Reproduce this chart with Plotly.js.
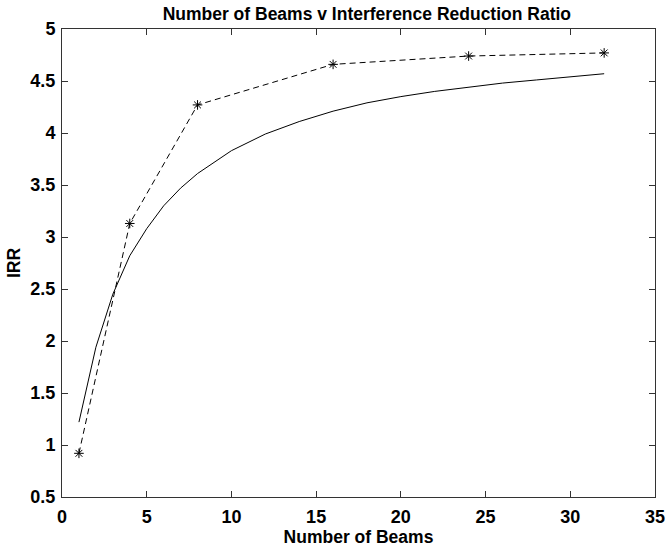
<!DOCTYPE html>
<html>
<head>
<meta charset="utf-8">
<script src="https://cdn.plot.ly/plotly-3.0.1.min.js"></script>
<style>html,body{margin:0;padding:0;background:#fff;}#chart{width:667px;height:549px;}</style>
</head>
<body>
<div id="chart"></div>
<script>
// Measured (dashed, asterisk markers)
const beamsMeasured = [1, 4, 8, 16, 24, 32];
const irrMeasured = [0.92, 3.13, 4.27, 4.66, 4.74, 4.77];

// Theoretical curve (solid)
const beamsCurve = [1, 2, 3, 4, 5, 6, 7, 8, 10, 12, 14, 16, 18, 20, 22, 24, 26, 28, 30, 32];
const irrCurve = [1.22, 1.94, 2.45, 2.82, 3.08, 3.30, 3.47, 3.61, 3.83, 3.99, 4.11, 4.21, 4.29, 4.35, 4.40, 4.44, 4.48, 4.51, 4.54, 4.57];

const xTicks = [0, 5, 10, 15, 20, 25, 30, 35];
const yTicks = [0.5, 1, 1.5, 2, 2.5, 3, 3.5, 4, 4.5, 5];

const FONT = 'Liberation Sans, Arial, Helvetica, sans-serif';

const traces = [
  {
    x: beamsCurve, y: irrCurve, type: 'scatter', mode: 'lines',
    line: {color: '#000', width: 1}, hoverinfo: 'skip', showlegend: false
  },
  {
    x: beamsMeasured, y: irrMeasured, type: 'scatter', mode: 'lines+markers',
    line: {color: '#000', width: 1, dash: '6px,4px'},
    marker: {symbol: 'asterisk-open', size: 8, color: '#000', line: {color: '#000', width: 1}},
    hoverinfo: 'skip', showlegend: false
  }
];

const axisCommon = {
  showgrid: false, zeroline: false, showline: true, linecolor: '#333', linewidth: 1,
  mirror: 'ticks', ticks: 'inside', ticklen: 6, tickwidth: 1, tickcolor: '#333',
  tickfont: {family: FONT, size: 18, color: '#000'}
};

const layout = {
  width: 667, height: 549,
  margin: {l: 62, r: 12, t: 29, b: 52, pad: 0},
  paper_bgcolor: '#fff', plot_bgcolor: '#fff',
  title: {text: 'Number of Beams v Interference Reduction Ratio', font: {family: FONT, size: 17.5, color: '#000', weight: 'bold'},
          x: 0.55, xanchor: 'center', y: 0.974, yanchor: 'middle'},
  xaxis: Object.assign({}, axisCommon, {
    range: [0, 35], tickvals: xTicks, ticktext: xTicks.map(v => '<b>' + v + '</b>'), ticklabelstandoff: 3,
    title: {text: 'Number of Beams', font: {family: FONT, size: 17.5, color: '#000', weight: 'bold'}, standoff: 3}
  }),
  yaxis: Object.assign({}, axisCommon, {
    range: [0.5, 5], tickvals: yTicks, ticktext: yTicks.map(v => '<b>' + v + '</b>'), ticklabelstandoff: 2,
    title: {text: 'IRR', font: {family: FONT, size: 17.5, color: '#000', weight: 'bold'}, standoff: 5}
  })
};

Plotly.newPlot('chart', traces, layout, {staticPlot: true, displayModeBar: false});
</script>
</body>
</html>
